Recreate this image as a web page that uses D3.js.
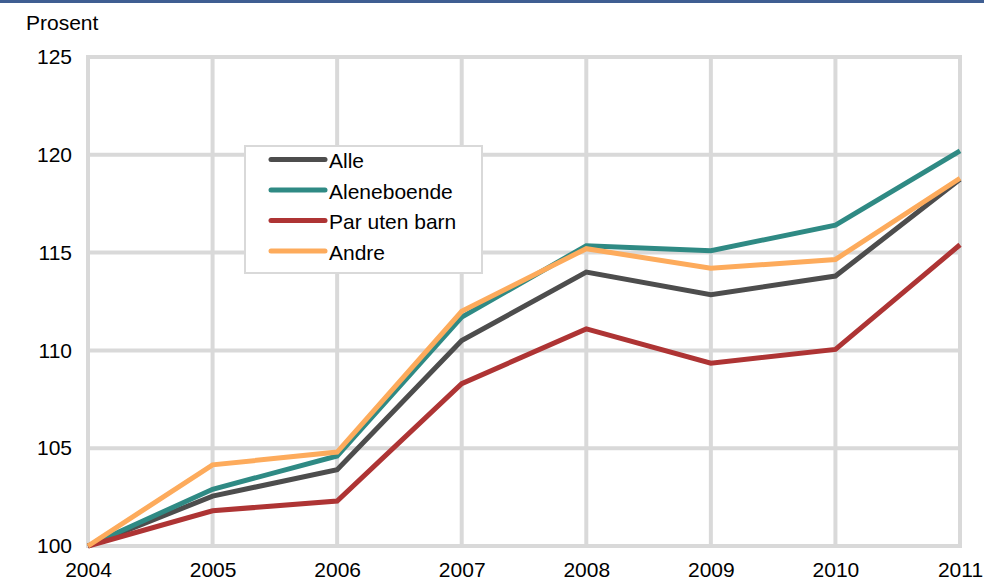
<!DOCTYPE html>
<html><head><meta charset="utf-8">
<script src="https://cdn.jsdelivr.net/npm/d3@7"></script>
<style>body{margin:0;background:#fff;}svg{display:block;font-family:"Liberation Sans",Arial,sans-serif;}</style>
</head><body>
<svg id="c" width="984" height="581"></svg>
<script>
const years = [2004, 2005, 2006, 2007, 2008, 2009, 2010, 2011];
const yTicks = [100, 105, 110, 115, 120, 125];
const seriesNames = ["Alle", "Aleneboende", "Par uten barn", "Andre"];
const alle = [100, 102.55, 103.9, 110.5, 114.0, 112.85, 113.8, 118.75];
const aleneboende = [100, 102.9, 104.6, 111.7, 115.35, 115.1, 116.4, 120.2];
const parUtenBarn = [100, 101.8, 102.3, 108.3, 111.1, 109.35, 110.05, 115.4];
const andre = [100, 104.15, 104.8, 112.0, 115.2, 114.2, 114.65, 118.8];
const colors = ["#4d4d4d", "#2f8a84", "#ae3434", "#fdab5c"];
const allSeries = [alle, aleneboende, parUtenBarn, andre];
const FS = 21;

const svg = d3.select("#c");
const L = 88, R = 960, T = 57, B = 546;
const x = d3.scaleLinear().domain([2004, 2011]).range([L, R]);
const y = d3.scaleLinear().domain([100, 125]).range([B, T]);

svg.append("rect").attr("x", 0).attr("y", 0).attr("width", 984).attr("height", 3).attr("fill", "#3f5e92");

const grid = svg.append("g");
grid.selectAll("line.v").data(years).join("line")
  .attr("x1", d => x(d)).attr("x2", d => x(d)).attr("y1", T).attr("y2", B)
  .attr("stroke", "#d9d9d9").attr("stroke-width", 4);
grid.selectAll("line.h").data(yTicks).join("line")
  .attr("x1", L - 2).attr("x2", R + 2).attr("y1", d => y(d)).attr("y2", d => y(d))
  .attr("stroke", "#d9d9d9").attr("stroke-width", 4);

const yAxis = d3.axisLeft(y).tickValues(yTicks).tickSize(0).tickPadding(16).tickFormat(d3.format("d"));
const ga = svg.append("g").attr("transform", `translate(${L},0)`).call(yAxis);
ga.attr("font-size", FS).attr("font-family", null);
ga.select(".domain").remove();
ga.selectAll("text").attr("fill", "#000");

const xAxis = d3.axisBottom(x).tickValues(years).tickSize(0).tickPadding(16).tickFormat(d3.format("d"));
const gx = svg.append("g").attr("transform", `translate(0,${B})`).call(xAxis);
gx.attr("font-size", FS).attr("font-family", null);
gx.select(".domain").remove();
gx.selectAll("text").attr("fill", "#000");

svg.append("text").attr("x", 26).attr("y", 30).attr("font-size", FS).text("Prosent");

const line = d3.line().x((d, i) => x(years[i])).y(d => y(d));
allSeries.forEach((s, k) => {
  svg.append("path").datum(s).attr("d", line).attr("fill", "none")
    .attr("stroke", colors[k]).attr("stroke-width", 5).attr("stroke-linejoin", "miter");
});

const lg = svg.append("g");
lg.append("rect").attr("x", 245).attr("y", 146).attr("width", 237).attr("height", 127)
  .attr("fill", "#fff").attr("stroke", "#d9d9d9").attr("stroke-width", 2);
seriesNames.forEach((n, k) => {
  const yy = 159.5 + k * 30.5;
  lg.append("line").attr("x1", 271).attr("x2", 325).attr("y1", yy).attr("y2", yy)
    .attr("stroke", colors[k]).attr("stroke-width", 5).attr("stroke-linecap", "round");
  lg.append("text").attr("x", 329).attr("y", yy + 8.5).attr("font-size", FS).text(n);
});
</script>
</body></html>
